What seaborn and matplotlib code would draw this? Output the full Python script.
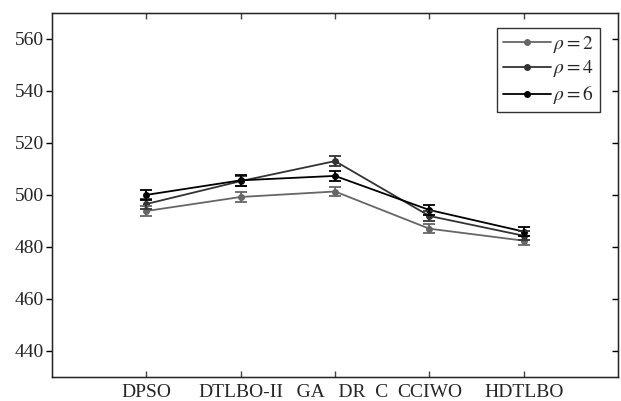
import pandas as pd
import matplotlib
matplotlib.use('Agg')
import matplotlib.pyplot as plt
import seaborn as sns

# values
algorithms = ['DPSO', 'DTLBO-II', '   GA   DR  C', 'CCIWO', 'HDTLBO']
rho_labels = [r'$\rho = 2$', r'$\rho = 4$', r'$\rho = 6$']
rho2 = [493.8, 499.2, 501.3, 487.0, 482.4]
rho4 = [496.5, 505.3, 513.0, 491.9, 484.3]
rho6 = [500.0, 505.6, 507.3, 494.2, 485.9]
err2 = [2.0, 1.8, 1.8, 1.8, 1.8]
err4 = [2.0, 1.8, 2.0, 1.8, 1.8]
err6 = [2.0, 2.0, 2.0, 2.0, 1.8]

colors = ['#666666', '#333333', '#000000']

sns.set_style('white')
plt.rcParams['font.family'] = ['Liberation Serif', 'DejaVu Serif']
plt.rcParams['mathtext.fontset'] = 'stix'

# long table for seaborn
rows = []
for lab, vals in zip(rho_labels, [rho2, rho4, rho6]):
    for i, v in enumerate(vals):
        rows.append({'x': i, 'value': v, 'rho': lab})
df = pd.DataFrame(rows)

fig = plt.figure(figsize=(6.21, 4.01), dpi=100)
ax = fig.add_axes([0.084, 0.06, 0.911, 0.908])

sns.lineplot(data=df, x='x', y='value', hue='rho', palette=colors,
             marker='o', markersize=5, markeredgewidth=0, linewidth=1.3,
             ax=ax)

# error bars
for i, (vals, errs) in enumerate(zip([rho2, rho4, rho6], [err2, err4, err6])):
    ax.errorbar(range(len(algorithms)), vals, yerr=errs, fmt='none',
                ecolor=colors[i], elinewidth=1.3, capsize=4, capthick=1.3)

ax.set_xlim(-1, 5)
ax.set_ylim(430, 570)
ax.set_xticks(range(len(algorithms)))
ax.set_xticklabels(algorithms)
ax.set_yticks(range(440, 561, 20))
ax.set_xlabel('')
ax.set_ylabel('')

for s in ax.spines.values():
    s.set_visible(True)
    s.set_color('black')
    s.set_linewidth(1.0)

ax.tick_params(axis='x', direction='in', top=True, bottom=True, length=4,
               width=1, color='#444444', labelsize=14, pad=5)
ax.tick_params(axis='y', direction='out', left=True, right=False, length=4,
               width=1, color='black', labelsize=14, pad=2)

# inward ticks on the right side
ax2 = ax.twinx()
ax2.set_ylim(ax.get_ylim())
ax2.set_yticks(range(440, 561, 20))
ax2.tick_params(axis='y', direction='in', right=True, labelright=False,
                length=4, width=1, color='black')
ax2.grid(False)

handles, labels = ax.get_legend_handles_labels()
ax.get_legend().remove()
leg = ax2.legend(handles, labels, loc='upper right',
                 bbox_to_anchor=(0.968, 0.959), borderaxespad=0,
                 fontsize=14, frameon=True, fancybox=False,
                 edgecolor='black', handlelength=2.5, handletextpad=0.1,
                 labelspacing=0.2, borderpad=0.3)
leg.get_frame().set_linewidth(1.0)

plt.savefig('out.png', dpi=100)
